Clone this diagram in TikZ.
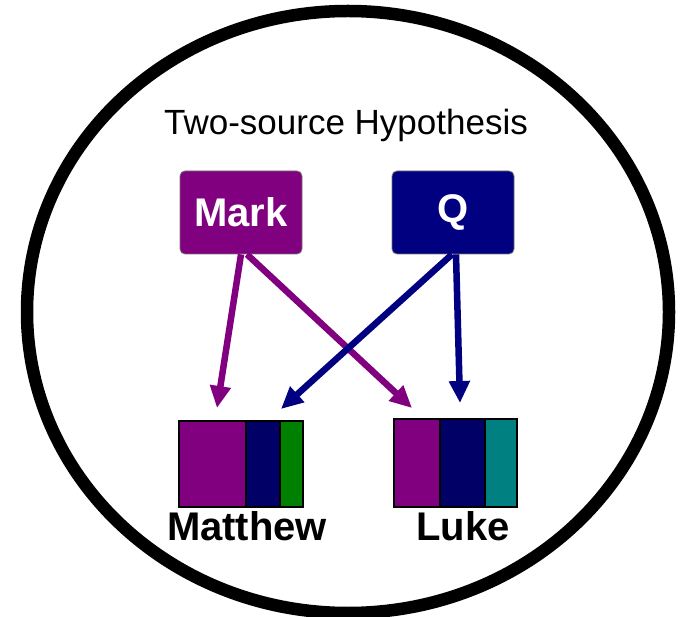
\documentclass[tikz,border=0pt]{standalone}
\usepackage{fontspec}
\setmainfont{Liberation Sans}
\usetikzlibrary{arrows.meta}
\definecolor{markpurple}{HTML}{800080}
\definecolor{qnavy}{HTML}{000080}
\definecolor{deepnavy}{HTML}{000066}
\definecolor{mattgreen}{HTML}{008000}
\definecolor{luketeal}{HTML}{008080}
\tikzset{
  source/.style={rounded corners=5pt, draw=black!55, line width=0.8pt,
    minimum width=122pt, minimum height=83pt, inner sep=0pt,
    text=white, font=\fontsize{40}{48}\selectfont\bfseries},
  flow/.style={line width=6.5pt, -{Triangle[length=22pt,width=20pt]}},
  gospelname/.style={font=\fontsize{40}{48}\selectfont\bfseries, anchor=base, inner sep=0pt},
  part/.style={draw=black, line width=1.5pt},
  gospelbox/.style={draw=black, line width=2pt, inner sep=0pt},
}
\begin{document}
\begin{tikzpicture}[x=1pt, y=-1pt]
  \useasboundingbox (0,0) rectangle (680,617);
  % outer frame
  \draw[line width=12.5pt] (348,312) ellipse [x radius=321, y radius=301];

  % title
  \node[anchor=base, inner sep=0pt, font=\fontsize{35}{42}\selectfont] (title) at (346,135) {Two-source Hypothesis};

  % sources
  \node[source, fill=markpurple] (mark) at (241,212.5) {Mark};
  \node[source, fill=qnavy] (q) at (453,212.5) {Q};

  % arrow targets just above the gospels
  \coordinate (mtA) at (217,408);
  \coordinate (mtB) at (281,409);
  \coordinate (lkA) at (412,408);
  \coordinate (lkB) at (460,403);

  % dependencies
  \draw[flow, markpurple] (mark.south) -- (mtA);
  \draw[flow, markpurple] ([xshift=6pt]mark.south) -- (lkA);
  \draw[flow, qnavy] ([xshift=-1pt]q.south) -- (mtB);
  \draw[flow, qnavy] ([xshift=3pt]q.south) -- (lkB);

  % Matthew: Mark + Q + own material
  \fill[markpurple] (179,421) rectangle (246,507);
  \fill[deepnavy] (246,421) rectangle (280,507);
  \fill[mattgreen] (280,421) rectangle (303,507);
  \draw[part] (246,421) -- (246,507);
  \draw[part] (280,421) -- (280,507);
  \node[gospelbox, minimum width=124pt, minimum height=86pt] (matthew) at (241,464) {};

  % Luke: Mark + Q + own material
  \fill[markpurple] (394,419) rectangle (440,507);
  \fill[deepnavy] (440,419) rectangle (485,507);
  \fill[luketeal] (485,419) rectangle (517,507);
  \draw[part] (440,419) -- (440,507);
  \draw[part] (485,419) -- (485,507);
  \node[gospelbox, minimum width=123pt, minimum height=88pt] (luke) at (455.5,463) {};

  % names
  \node[gospelname] (mattname) at (247,540) {Matthew};
  \node[gospelname] (lukename) at (463,540) {Luke};
\end{tikzpicture}
\end{document}
